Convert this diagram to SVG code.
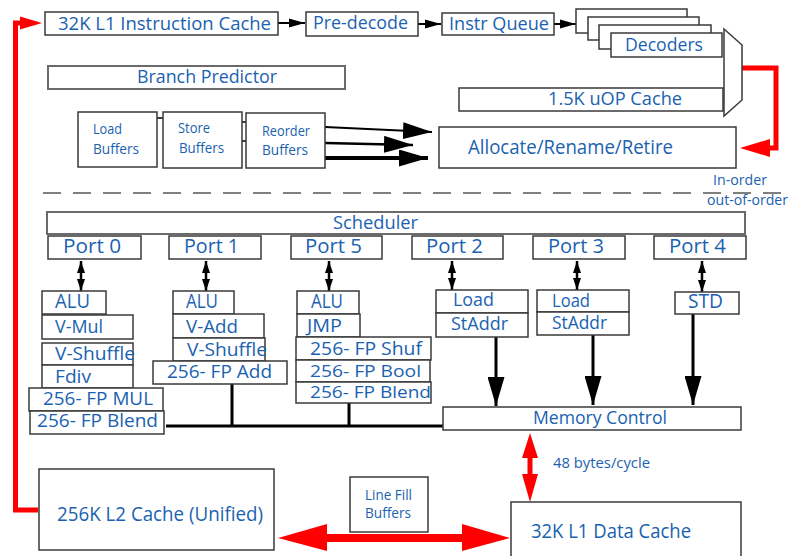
<svg xmlns="http://www.w3.org/2000/svg" width="788" height="556" viewBox="0 0 788 556">
<style>
.b{fill:#fff;stroke:#3a3a3a;stroke-width:1.5}
.g{fill:#fff;stroke:#6a6a6a;stroke-width:2}
.t{font-family:"Open Sans","Noto Sans","Liberation Sans",sans-serif;font-weight:500;fill:#1a62b0}
.k{stroke:#000;fill:none}
.r{fill:#ff0000}
.rl{stroke:#ff0000;stroke-width:5;fill:none}
</style>
<defs>
<marker id="ah" markerUnits="userSpaceOnUse" markerWidth="16" markerHeight="10" refX="16" refY="5" orient="auto"><path d="M0,0.5 L16,5 L0,9.5 z" fill="#000"/></marker>
<marker id="pa" markerUnits="userSpaceOnUse" markerWidth="12" markerHeight="9" refX="12" refY="4.5" orient="auto-start-reverse"><path d="M0,0.5 L12,4.5 L0,8.5 z" fill="#000"/></marker>
<marker id="big" markerUnits="userSpaceOnUse" markerWidth="30" markerHeight="17" refX="29" refY="8.5" orient="auto"><path d="M0,0 L29,8.5 L0,17 z" fill="#000"/></marker>
</defs>

<g id="connectors">
<line class="k" x1="278" y1="23" x2="305" y2="23" stroke-width="2" marker-end="url(#ah)"/>
<line class="k" x1="418" y1="24" x2="441" y2="24" stroke-width="2" marker-end="url(#ah)"/>
<line class="k" x1="554" y1="24" x2="576" y2="24" stroke-width="2" marker-end="url(#ah)"/>
<line class="k" x1="157" y1="118" x2="163" y2="118" stroke-width="1.5"/>
<line class="k" x1="242" y1="122" x2="246" y2="122" stroke-width="1.5"/>
<line class="k" x1="242" y1="141" x2="246" y2="141" stroke-width="1.5"/>
<line class="k" x1="325" y1="127" x2="432" y2="132" stroke-width="2" marker-end="url(#big)"/>
<line class="k" x1="325" y1="143" x2="413" y2="145" stroke-width="2.5" marker-end="url(#big)"/>
<line class="k" x1="325" y1="158" x2="428" y2="158" stroke-width="4" marker-end="url(#big)"/>
<line x1="35" y1="193" x2="788" y2="193" stroke="#555" stroke-width="1.5" stroke-dasharray="18 12" stroke-dashoffset="-8"/>
<line class="k" x1="81" y1="261" x2="81" y2="291" stroke-width="2.5" marker-start="url(#pa)" marker-end="url(#pa)"/>
<line class="k" x1="206" y1="261" x2="206" y2="291" stroke-width="2.5" marker-start="url(#pa)" marker-end="url(#pa)"/>
<line class="k" x1="329" y1="261" x2="329" y2="291" stroke-width="2.5" marker-start="url(#pa)" marker-end="url(#pa)"/>
<line class="k" x1="452" y1="261" x2="452" y2="290" stroke-width="2.5" marker-start="url(#pa)" marker-end="url(#pa)"/>
<line class="k" x1="577" y1="261" x2="577" y2="290" stroke-width="2.5" marker-start="url(#pa)" marker-end="url(#pa)"/>
<line class="k" x1="702" y1="261" x2="702" y2="292" stroke-width="2.5" marker-start="url(#pa)" marker-end="url(#pa)"/>
<line class="k" x1="496" y1="337" x2="496" y2="406" stroke-width="3" marker-end="url(#big)"/>
<line class="k" x1="593" y1="335" x2="593" y2="405" stroke-width="3" marker-end="url(#big)"/>
<line class="k" x1="693" y1="314" x2="693" y2="405" stroke-width="3" marker-end="url(#big)"/>
<line class="k" x1="166" y1="426" x2="444" y2="426" stroke-width="3"/>
<line class="k" x1="232" y1="384" x2="232" y2="427" stroke-width="3"/>
<line class="k" x1="349" y1="403" x2="349" y2="427" stroke-width="3"/>
<polyline class="rl" points="38,510 15.5,510 15.5,23 22,23"/>
<polygon class="r" points="42,23 20,16.5 20,29.5"/>
<polyline class="rl" points="742,68 776,68 776,148 768,148"/>
<polygon class="r" points="740,148 770,139 770,157"/>
<rect class="r" x="320" y="534" width="148" height="8"/>
<polygon class="r" points="278,538 327,524 327,551"/>
<polygon class="r" points="510,538 462,524 462,551"/>
<rect class="r" x="527.5" y="452" width="5" height="26"/>
<polygon class="r" points="530,433 522,458 538,458"/>
<polygon class="r" points="530,502 522,474 538,474"/>
</g>

<g id="icache"><rect class="b" x="45" y="12" width="233" height="23"/><text class="t" x="58" y="30" font-size="19" textLength="213" lengthAdjust="spacingAndGlyphs">32K L1 Instruction Cache</text></g>
<g id="predecode"><rect class="b" x="306" y="12" width="112" height="24"/><text class="t" x="313" y="29" font-size="19" textLength="95" lengthAdjust="spacingAndGlyphs">Pre-decode</text></g>
<g id="iqueue"><rect class="b" x="442" y="13" width="112" height="22"/><text class="t" x="449" y="30" font-size="19" textLength="100" lengthAdjust="spacingAndGlyphs">Instr Queue</text></g>
<g id="decoders">
<rect class="b" x="576" y="9" width="111" height="24"/>
<rect class="b" x="588" y="17" width="111" height="23"/>
<rect class="b" x="599" y="25" width="112" height="24"/>
<rect class="b" x="611" y="33" width="111" height="24"/>
<text class="t" x="625" y="51" font-size="19" textLength="78" lengthAdjust="spacingAndGlyphs">Decoders</text>
</g>
<g id="mux"><polygon class="b" points="724,29 742,45 742,100 724,116"/></g>
<g id="bpred"><rect class="g" x="48" y="66" width="297" height="23"/><text class="t" x="137" y="83" font-size="19" textLength="140" lengthAdjust="spacingAndGlyphs">Branch Predictor</text></g>
<g id="uopcache"><rect class="b" x="459" y="88" width="264" height="23"/><text class="t" x="548" y="105" font-size="19" textLength="134" lengthAdjust="spacingAndGlyphs">1.5K uOP Cache</text></g>
<g id="loadbuf"><rect class="b" x="78" y="112" width="79" height="55"/><text class="t" x="93" y="134" font-size="14" textLength="29" lengthAdjust="spacingAndGlyphs">Load</text><text class="t" x="93" y="154" font-size="14" textLength="46" lengthAdjust="spacingAndGlyphs">Buffers</text></g>
<g id="storebuf"><rect class="b" x="163" y="112" width="79" height="56"/><text class="t" x="178" y="133" font-size="14" textLength="32" lengthAdjust="spacingAndGlyphs">Store</text><text class="t" x="179" y="153" font-size="14" textLength="45" lengthAdjust="spacingAndGlyphs">Buffers</text></g>
<g id="reorderbuf"><rect class="b" x="246" y="113" width="79" height="55"/><text class="t" x="262" y="136" font-size="14" textLength="48" lengthAdjust="spacingAndGlyphs">Reorder</text><text class="t" x="262" y="155" font-size="14" textLength="46" lengthAdjust="spacingAndGlyphs">Buffers</text></g>
<g id="allocate"><rect class="b" x="439" y="127" width="297" height="41"/><text class="t" x="468" y="154" font-size="20" textLength="205" lengthAdjust="spacingAndGlyphs">Allocate/Rename/Retire</text></g>
<g id="orderlabels"><text class="t" x="713" y="185" font-size="14" textLength="54" lengthAdjust="spacingAndGlyphs">In-order</text><text class="t" x="707" y="205" font-size="14" textLength="81" lengthAdjust="spacingAndGlyphs">out-of-order</text></g>
<g id="scheduler"><rect class="g" x="47" y="212" width="698" height="22"/><text class="t" x="333" y="229" font-size="19" textLength="85" lengthAdjust="spacingAndGlyphs">Scheduler</text></g>
<g id="port0"><rect class="b" x="48" y="236" width="93" height="23"/><text class="t" x="63" y="253" font-size="20" textLength="58" lengthAdjust="spacingAndGlyphs">Port 0</text></g>
<g id="port1"><rect class="b" x="169" y="236" width="92" height="23"/><text class="t" x="184" y="253" font-size="20" textLength="55" lengthAdjust="spacingAndGlyphs">Port 1</text></g>
<g id="port5"><rect class="b" x="291" y="236" width="91" height="23"/><text class="t" x="305" y="253" font-size="20" textLength="57" lengthAdjust="spacingAndGlyphs">Port 5</text></g>
<g id="port2"><rect class="b" x="412" y="236" width="91" height="23"/><text class="t" x="426" y="253" font-size="20" textLength="57" lengthAdjust="spacingAndGlyphs">Port 2</text></g>
<g id="port3"><rect class="b" x="533" y="236" width="92" height="23"/><text class="t" x="548" y="253" font-size="20" textLength="56" lengthAdjust="spacingAndGlyphs">Port 3</text></g>
<g id="port4"><rect class="b" x="654" y="236" width="92" height="23"/><text class="t" x="669" y="253" font-size="20" textLength="57" lengthAdjust="spacingAndGlyphs">Port 4</text></g>

<g id="p0-alu"><rect class="b" x="42" y="291" width="64" height="23"/><text class="t" x="55" y="308" font-size="20" textLength="35" lengthAdjust="spacingAndGlyphs">ALU</text></g>
<g id="p0-vmul"><rect class="b" x="42" y="315" width="91" height="24"/><text class="t" x="55" y="333" font-size="19" textLength="48" lengthAdjust="spacingAndGlyphs">V-Mul</text></g>
<g id="p0-vshuffle"><rect class="b" x="42" y="343" width="91" height="22"/><text class="t" x="55" y="360" font-size="18" textLength="80" lengthAdjust="spacingAndGlyphs">V-Shuffle</text></g>
<g id="p0-fdiv"><rect class="b" x="42" y="365" width="91" height="23"/><text class="t" x="55" y="383" font-size="18" textLength="36" lengthAdjust="spacingAndGlyphs">Fdiv</text></g>
<g id="p0-fpmul"><rect class="b" x="29" y="388" width="134" height="23"/><text class="t" x="43" y="405" font-size="18" textLength="110" lengthAdjust="spacingAndGlyphs">256- FP MUL</text></g>
<g id="p0-fpblend"><rect class="b" x="30" y="411" width="134" height="23"/><text class="t" x="37" y="427" font-size="18" textLength="121" lengthAdjust="spacingAndGlyphs">256- FP Blend</text></g>

<g id="p1-alu"><rect class="b" x="173" y="291" width="61" height="23"/><text class="t" x="186" y="308" font-size="20" textLength="32" lengthAdjust="spacingAndGlyphs">ALU</text></g>
<g id="p1-vadd"><rect class="b" x="173" y="314" width="91" height="24"/><text class="t" x="186" y="333" font-size="19" textLength="52" lengthAdjust="spacingAndGlyphs">V-Add</text></g>
<g id="p1-vshuffle"><rect class="b" x="173" y="338" width="92" height="23"/><text class="t" x="187" y="356" font-size="18" textLength="80" lengthAdjust="spacingAndGlyphs">V-Shuffle</text></g>
<g id="p1-fpadd"><rect class="b" x="153" y="361" width="134" height="23"/><text class="t" x="167" y="378" font-size="18" textLength="105" lengthAdjust="spacingAndGlyphs">256- FP Add</text></g>

<g id="p5-alu"><rect class="b" x="297" y="291" width="62" height="23"/><text class="t" x="311" y="308" font-size="20" textLength="32" lengthAdjust="spacingAndGlyphs">ALU</text></g>
<g id="p5-jmp"><rect class="b" x="297" y="314" width="63" height="23"/><text class="t" x="307" y="332" font-size="19" textLength="35" lengthAdjust="spacingAndGlyphs">JMP</text></g>
<g id="p5-fpshuf"><rect class="b" x="296" y="337" width="135" height="23"/><text class="t" x="310" y="355" font-size="18" textLength="112" lengthAdjust="spacingAndGlyphs">256- FP Shuf</text></g>
<g id="p5-fpbool"><rect class="b" x="296" y="360" width="134" height="22"/><text class="t" x="310" y="377" font-size="17" textLength="111" lengthAdjust="spacingAndGlyphs">256- FP Bool</text></g>
<g id="p5-fpblend"><rect class="b" x="296" y="382" width="135" height="21"/><text class="t" x="310" y="398" font-size="17" textLength="121" lengthAdjust="spacingAndGlyphs">256- FP Blend</text></g>

<g id="p2-load"><rect class="b" x="436" y="290" width="92" height="23"/><text class="t" x="453" y="306" font-size="18" textLength="41" lengthAdjust="spacingAndGlyphs">Load</text></g>
<g id="p2-staddr"><rect class="b" x="436" y="313" width="92" height="24"/><text class="t" x="451" y="330" font-size="18" textLength="57" lengthAdjust="spacingAndGlyphs">StAddr</text></g>
<g id="p3-load"><rect class="b" x="537" y="290" width="92" height="22"/><text class="t" x="552" y="307" font-size="18" textLength="38" lengthAdjust="spacingAndGlyphs">Load</text></g>
<g id="p3-staddr"><rect class="b" x="537" y="312" width="92" height="23"/><text class="t" x="552" y="329" font-size="18" textLength="55" lengthAdjust="spacingAndGlyphs">StAddr</text></g>
<g id="p4-std"><rect class="b" x="675" y="292" width="64" height="22"/><text class="t" x="688" y="308" font-size="20" textLength="35" lengthAdjust="spacingAndGlyphs">STD</text></g>

<g id="memctrl"><rect class="b" x="443" y="407" width="298" height="23"/><text class="t" x="533" y="424" font-size="19" textLength="134" lengthAdjust="spacingAndGlyphs">Memory Control</text></g>
<g id="bwlabel"><text class="t" x="553" y="468" font-size="15" textLength="97" lengthAdjust="spacingAndGlyphs">48 bytes/cycle</text></g>
<g id="l2cache"><rect class="b" x="39" y="469" width="235" height="81"/><text class="t" x="57" y="521" font-size="20" textLength="206" lengthAdjust="spacingAndGlyphs">256K L2 Cache (Unified)</text></g>
<g id="linefill"><rect class="b" x="350" y="477" width="78" height="55"/><text class="t" x="365" y="500" font-size="14" textLength="47" lengthAdjust="spacingAndGlyphs">Line Fill</text><text class="t" x="365" y="518" font-size="14" textLength="46" lengthAdjust="spacingAndGlyphs">Buffers</text></g>
<g id="dcache"><rect class="b" x="511" y="502" width="230" height="60"/><text class="t" x="531" y="538" font-size="20" textLength="160" lengthAdjust="spacingAndGlyphs">32K L1 Data Cache</text></g>
</svg>
